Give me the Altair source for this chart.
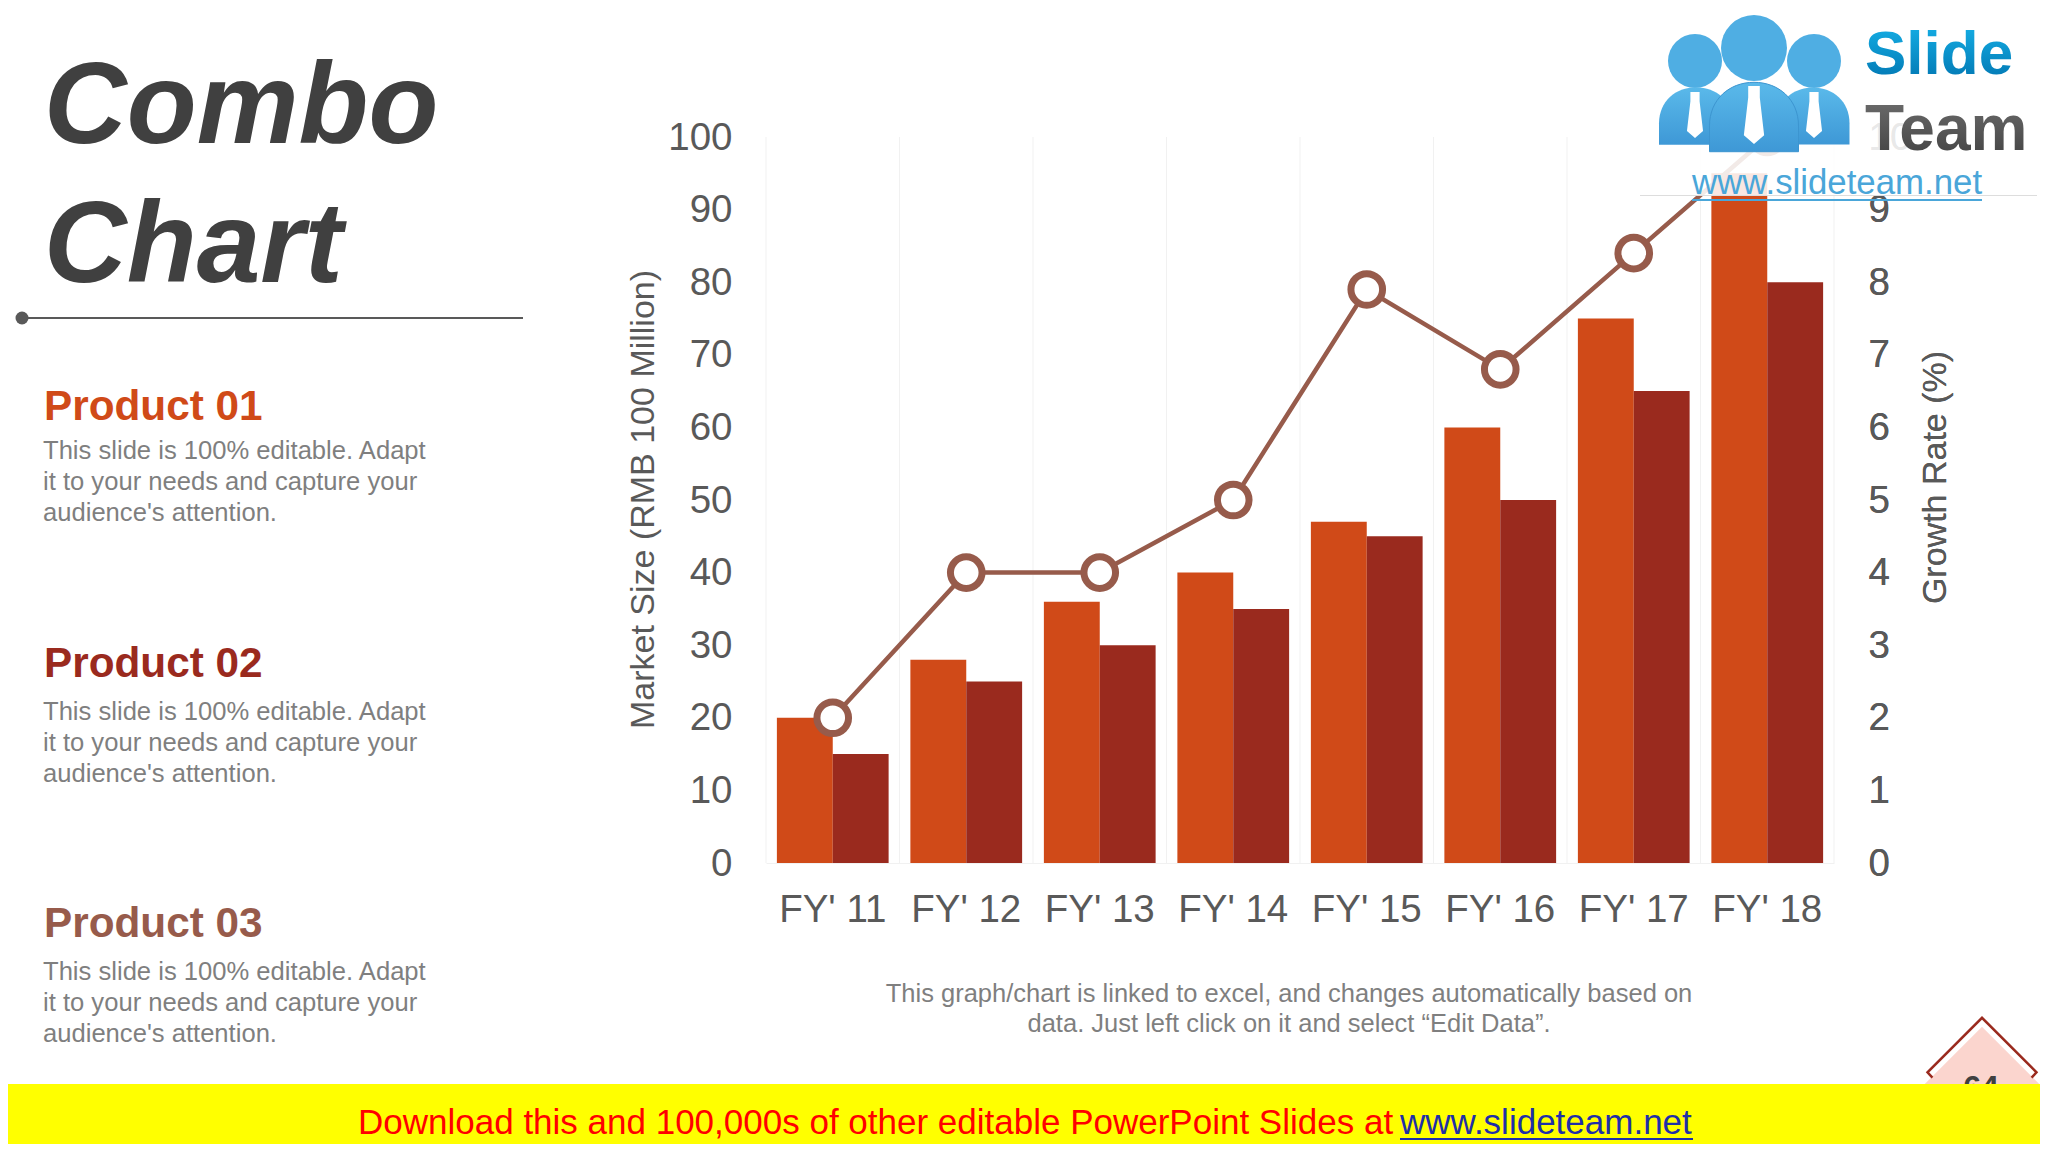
"""Combo chart slide: grouped bars with a growth rate line on a second axis."""

import altair as alt
import pandas as pd

years = ["FY' 11", "FY' 12", "FY' 13", "FY' 14", "FY' 15", "FY' 16", "FY' 17", "FY' 18"]
product_01 = [20, 28, 36, 40, 47, 60, 75, 95]
product_02 = [15, 25, 30, 35, 45, 50, 65, 80]
growth_rate = [2, 4, 4, 5, 7.9, 6.8, 8.4, 10]
left_ticks = list(range(0, 101, 10))
right_ticks = list(range(0, 11))
boundaries = list(range(0, 9))

FONT = "Liberation Sans"
ORANGE = "#D04A18"
RED = "#9A2A1E"
BROWN = "#975B4B"
TICK_GREY = "#595959"
BODY_GREY = "#7F7F7F"

# where the plot area sits on the page
PLOT_X = 766
PLOT_Y = 137
PLOT_W = 1068
PLOT_H = 726

bars = pd.DataFrame(
    {
        "year": years * 2,
        "series": ["Product 01"] * len(years) + ["Product 02"] * len(years),
        "value": product_01 + product_02,
    }
)
growth = pd.DataFrame({"year": years, "growth": growth_rate})
blank = alt.Data(values=[{}])

x_scale = alt.Scale(domain=years, paddingInner=0.163, paddingOuter=0.0815)


def label(text, x, y, size, color, **kwargs):
    """Text placed by page position."""
    params = {"align": "left", "baseline": "alphabetic", "font": FONT}
    params.update(kwargs)
    return (
        alt.Chart(blank)
        .mark_text(text=text, fontSize=size, color=color, **params)
        .encode(x=alt.value(x - PLOT_X), y=alt.value(y - PLOT_Y))
    )


def box(x, y, x2, y2, **kwargs):
    """Rectangle placed by page position."""
    return (
        alt.Chart(blank)
        .mark_rect(**kwargs)
        .encode(
            x=alt.value(x - PLOT_X),
            x2=alt.value(x2 - PLOT_X),
            y=alt.value(y - PLOT_Y),
            y2=alt.value(y2 - PLOT_Y),
        )
    )


def shape(path, x, y, width, **kwargs):
    """Custom symbol, the path runs from -1 to 1 over the given width."""
    return (
        alt.Chart(blank)
        .mark_point(shape=path, size=width * width, opacity=1, **kwargs)
        .encode(x=alt.value(x - PLOT_X), y=alt.value(y - PLOT_Y))
    )


grid = (
    alt.Chart(pd.DataFrame({"boundary": boundaries}))
    .mark_rule(color="#F1F1F1", strokeWidth=1)
    .encode(x=alt.X("boundary:Q", scale=alt.Scale(domain=[0, 8]), axis=None))
)

bar_layer = (
    alt.Chart(bars)
    .mark_bar()
    .encode(
        x=alt.X(
            "year:N",
            sort=years,
            scale=x_scale,
            axis=alt.Axis(
                title=None,
                labelAngle=0,
                labelFontSize=38.5,
                labelFont=FONT,
                labelColor=TICK_GREY,
                labelPadding=28,
                ticks=False,
                domainColor="#F1F1F1",
            ),
        ),
        xOffset=alt.XOffset("series:N"),
        y=alt.Y(
            "value:Q",
            scale=alt.Scale(domain=[0, 100]),
            axis=alt.Axis(
                title="Market Size (RMB 100 Million)",
                titleFont=FONT,
                titleFontSize=34,
                titleFontWeight="normal",
                titleColor=TICK_GREY,
                titleX=-123,
                titleY=362,
                titleBaseline="middle",
                values=left_ticks,
                labelFontSize=38.5,
                labelFont=FONT,
                labelColor=TICK_GREY,
                labelPadding=34,
                ticks=False,
                domain=False,
                grid=False,
            ),
        ),
        color=alt.Color(
            "series:N",
            scale=alt.Scale(domain=["Product 01", "Product 02"], range=[ORANGE, RED]),
            legend=None,
        ),
    )
)

growth_x = alt.X("year:N", sort=years, scale=x_scale, axis=None)
growth_y = alt.Y(
    "growth:Q",
    scale=alt.Scale(domain=[0, 10]),
    axis=alt.Axis(
        orient="right",
        title="Growth Rate (%)",
        titleFont=FONT,
        titleFontSize=34,
        titleFontWeight="normal",
        titleColor=TICK_GREY,
        titleAngle=270,
        titleX=101,
        titleY=340,
        titleBaseline="middle",
        values=right_ticks,
        labelFontSize=38.5,
        labelFont=FONT,
        labelColor=TICK_GREY,
        labelPadding=34,
        ticks=False,
        domain=False,
        grid=False,
    ),
)
line_layer = (
    alt.Chart(growth).mark_line(color=BROWN, strokeWidth=4.5).encode(x=growth_x, y=growth_y)
)
point_layer = (
    alt.Chart(growth)
    .mark_point(filled=True, fill="white", stroke=BROWN, strokeWidth=7, size=1000, opacity=1)
    .encode(x=growth_x, y=growth_y)
)

# left column
text_layers = [
    label("Combo", 44, 143, 114.5, "#404040", fontWeight="bold", fontStyle="italic"),
    label("Chart", 44, 282, 114.5, "#404040", fontWeight="bold", fontStyle="italic"),
    box(22, 317, 523, 319, color="#595959"),
    shape("circle", 22, 318, 13, filled=True, color="#595959"),
]
body_lines = [
    "This slide is 100% editable. Adapt",
    "it to your needs and capture your",
    "audience's attention.",
]
for name, color, head_y, body_y in [
    ("Product 01", ORANGE, 420, 459),
    ("Product 02", RED, 677, 720),
    ("Product 03", BROWN, 937, 980),
]:
    text_layers.append(label(name, 44, head_y, 42.3, color, fontWeight="bold"))
    for i, line in enumerate(body_lines):
        text_layers.append(label(line, 43, body_y + i * 31, 25.6, BODY_GREY))

# note under the chart
text_layers += [
    label(
        "This graph/chart is linked to excel, and changes automatically based on",
        1289, 1002, 25.5, BODY_GREY, align="center",
    ),
    label(
        "data. Just left click on it and select \u201cEdit Data\u201d.",
        1289, 1032, 25.5, BODY_GREY, align="center",
    ),
]

# logo block over the top right corner
DOME = "M-1,0.78 L-1,0.2 C-1,-0.4 -0.55,-0.78 0,-0.78 C0.55,-0.78 1,-0.4 1,0.2 L1,0.78 Z"
TIE = "M-0.2,-1 L0.2,-1 L0.2,-0.6 L0.35,0.7 L0,1 L-0.35,0.7 L-0.2,-0.6 Z"
LOGO_BLUE = "#4FAEE3"
LOGO_EDGE = "#3C95D0"
dome_fill = alt.Gradient(
    gradient="linear", x1=0, y1=0, x2=0, y2=1,
    stops=[alt.GradientStop(offset=0, color="#5AB9EA"), alt.GradientStop(offset=1, color="#3E98D6")],
)
slide_fill = alt.Gradient(
    gradient="linear", x1=0, y1=0, x2=0, y2=1,
    stops=[alt.GradientStop(offset=0, color="#17B4EA"), alt.GradientStop(offset=1, color="#0072AE")],
)
team_fill = alt.Gradient(
    gradient="linear", x1=0, y1=0, x2=0, y2=1,
    stops=[alt.GradientStop(offset=0, color="#707070"), alt.GradientStop(offset=1, color="#404040")],
)
logo_layers = [
    box(1637, 0, 2037, 195, color="white", opacity=0.87),
    box(1640, 195, 2037, 196, color="#DDDDDD"),
    shape("circle", 1695, 61, 54, filled=True, color=LOGO_BLUE),
    shape("circle", 1814, 61, 54, filled=True, color=LOGO_BLUE),
    shape("circle", 1754, 48, 66, filled=True, color=LOGO_BLUE),
    shape(DOME, 1696, 116, 74, filled=True, fill=dome_fill),
    shape(DOME, 1813, 116, 73, filled=True, fill=dome_fill),
    shape(TIE, 1695, 115, 46, filled=True, color="white"),
    shape(TIE, 1814, 115, 46, filled=True, color="white"),
    shape(DOME, 1754, 117, 89, filled=True, fill=dome_fill, stroke=LOGO_EDGE, strokeWidth=1),
    shape(TIE, 1754, 115, 58, filled=True, color="white"),
    label("Slide", 1865, 74, 62, "#0B8FCB", fontWeight="bold", fill=slide_fill),
    label("Team", 1865, 150, 64, "#565656", fontWeight="bold", fill=team_fill),
    label("www.slideteam.net", 1692, 194, 34.8, "#4AA6D9"),
    box(1692, 199, 1982, 201, color="#4AA6D9"),
]

# page number corner and download strip
ROOF = "M0,-0.5 L1,0.5 L-1,0.5 Z"
EDGE = "M-0.91,0.6 L-1,0.5 L0,-0.5 L1,0.5 L0.91,0.6"
footer_layers = [
    shape(ROOF, 1982, 1055.5, 115, filled=True, color="#FBD5CE"),
    shape(EDGE, 1982, 1045, 109, filled=False, color=RED, strokeWidth=2.5),
    label("64", 1981, 1098, 32, "#404040", align="center", fontWeight="bold"),
    box(0, 1084, 2040, 1144, color="#FFFF00"),
    label(
        "Download this and 100,000s of other editable PowerPoint Slides at ",
        358, 1134, 35, "#FF0000",
    ),
    label("www.slideteam.net", 1400, 1134, 35, "#1F2FA8"),
    box(1400, 1138, 1693, 1140, color="#1F2FA8"),
]

chart = (
    alt.layer(grid, bar_layer, line_layer, point_layer, *text_layers, *logo_layers, *footer_layers)
    .resolve_scale(x="independent", y="independent")
    .properties(
        width=PLOT_W,
        height=PLOT_H,
        autosize=alt.AutoSizeParams(type="none"),
        # 2032 x 1136 in all, the page margin takes the other 16 px
        padding={"left": PLOT_X - 8, "top": PLOT_Y - 8, "right": 2040 - PLOT_X - PLOT_W, "bottom": 1144 - PLOT_Y - PLOT_H},
        background="white",
    )
    .configure_view(strokeWidth=0)
)

chart.save("out.html", embed_options={"renderer": "svg", "actions": False})
